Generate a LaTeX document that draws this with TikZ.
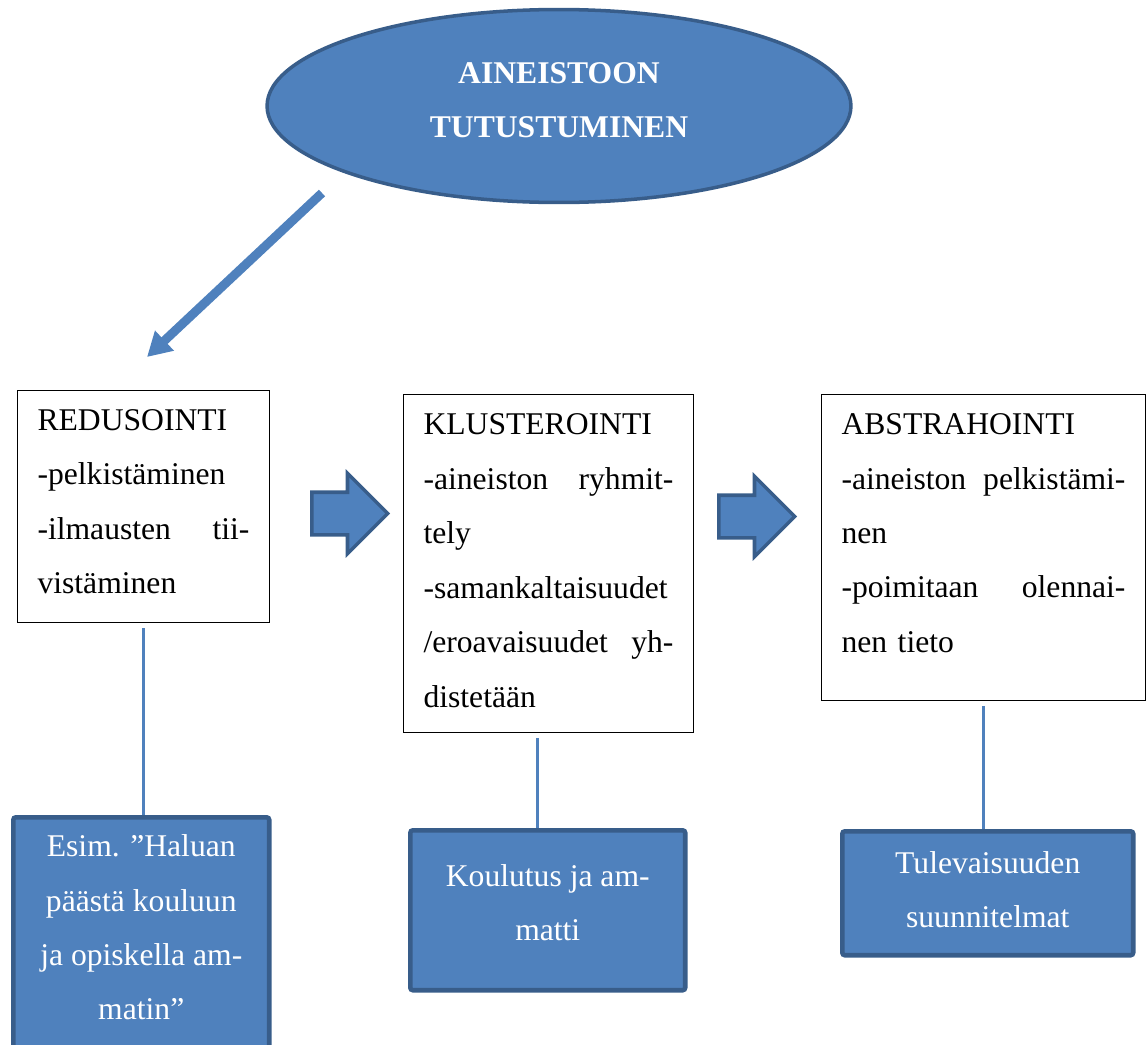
\documentclass[tikz,border=0pt]{standalone}
\usepackage{fontspec}
\setmainfont{Liberation Serif}
\usetikzlibrary{positioning,shapes.geometric,shapes.arrows,arrows.meta,calc}
\definecolor{office}  {HTML}{4F81BD}
\definecolor{officedk}{HTML}{385D8A}
\newcommand{\lift}[1]{\rule[-#1]{0pt}{#1}}
\tikzset{
  every node/.style={font=\fontsize{18pt}{31pt}\selectfont},
  % --- nodes
  phase/.style = {draw=black, line width=0.6pt, fill=white, align=left, anchor=north west,
                  inner xsep=0.4cm, inner ysep=0pt},
  theme/.style = {draw=officedk, line width=2.6pt, fill=office, text=white, align=center,
                  rounded corners=1.5pt, anchor=north west, inner sep=0pt},
  blk/.style   = {single arrow, draw=officedk, line width=2pt, fill=office, inner sep=0.39cm,
                  single arrow head extend=0.38cm, minimum height=1.52cm, anchor=west},
  % --- edges
  diag/.style  = {-{Triangle[length=0.48cm,width=0.52cm]}, draw=office, line width=0.18cm},
  link/.style  = {draw=office, line width=1.2pt, shorten <=0.1cm},
}
\begin{document}
\begin{tikzpicture}[x=0.02cm, y=-0.02cm]
  \useasboundingbox (0,0) rectangle (1147,1045);
  \node[ellipse, draw=officedk, line width=2pt, fill=office, text=white, align=center,
        minimum width=11.68cm, minimum height=3.86cm, inner sep=0pt,
        font=\fontsize{18pt}{31pt}\selectfont\bfseries] (ell) at (559,106)
        {AINEISTOON\\TUTUSTUMINEN\lift{0.24cm}};
  \coordinate (dtail) at (322,193);
  \coordinate (dtip) at (147,357);
  \draw[diag] (dtail) -- (dtip);

  \node[phase, text width=4.24cm, minimum height=4.64cm] (redu) at (17,390)
    {REDUSOINTI\\-pelkistäminen\\-ilmausten\hfill tii-\\vistäminen\lift{0.2cm}};
  \node[phase, text width=5.0cm, minimum height=6.76cm] (klus) at (403,394)
    {KLUSTEROINTI\\-aineiston\hfill ryhmit-\\tely\\-samankaltaisuudet\\/eroavaisuudet\hfill yh-\\distetään\lift{0.12cm}};
  \node[phase, text width=5.68cm, minimum height=6.12cm] (abst) at (821,394)
    {ABSTRAHOINTI\\-aineiston\hfill pelkistämi-\\nen\\-poimitaan\hfill olennai-\\nen tieto\lift{0.58cm}};

  \node[blk] (arr1) at (310,513.5) {};
  \node[blk] (arr2) at (717,516.5) {};

  \node[theme, minimum width=5.12cm, minimum height=5.0cm] (esim) at (11,815)
    {Esim. ”Haluan\\päästä kouluun\\ja opiskella am-\\matin”\lift{0.6cm}};
  \node[theme, minimum width=5.5cm, minimum height=3.2cm] (koul) at (408,828)
    {Koulutus ja am-\\matti\lift{0.32cm}};
  \node[theme, minimum width=5.82cm, minimum height=2.48cm] (tule) at (840,829)
    {Tulevaisuuden\\suunnitelmat\lift{0.16cm}};

  \draw[link] (redu.south) -- (redu.south |- esim.north);
  \draw[link] ([xshift=-0.22cm]klus.south) -- ([xshift=-0.22cm]klus.south |- koul.north);
  \draw[link] (abst.south) -- (abst.south |- tule.north);
\end{tikzpicture}
\end{document}
